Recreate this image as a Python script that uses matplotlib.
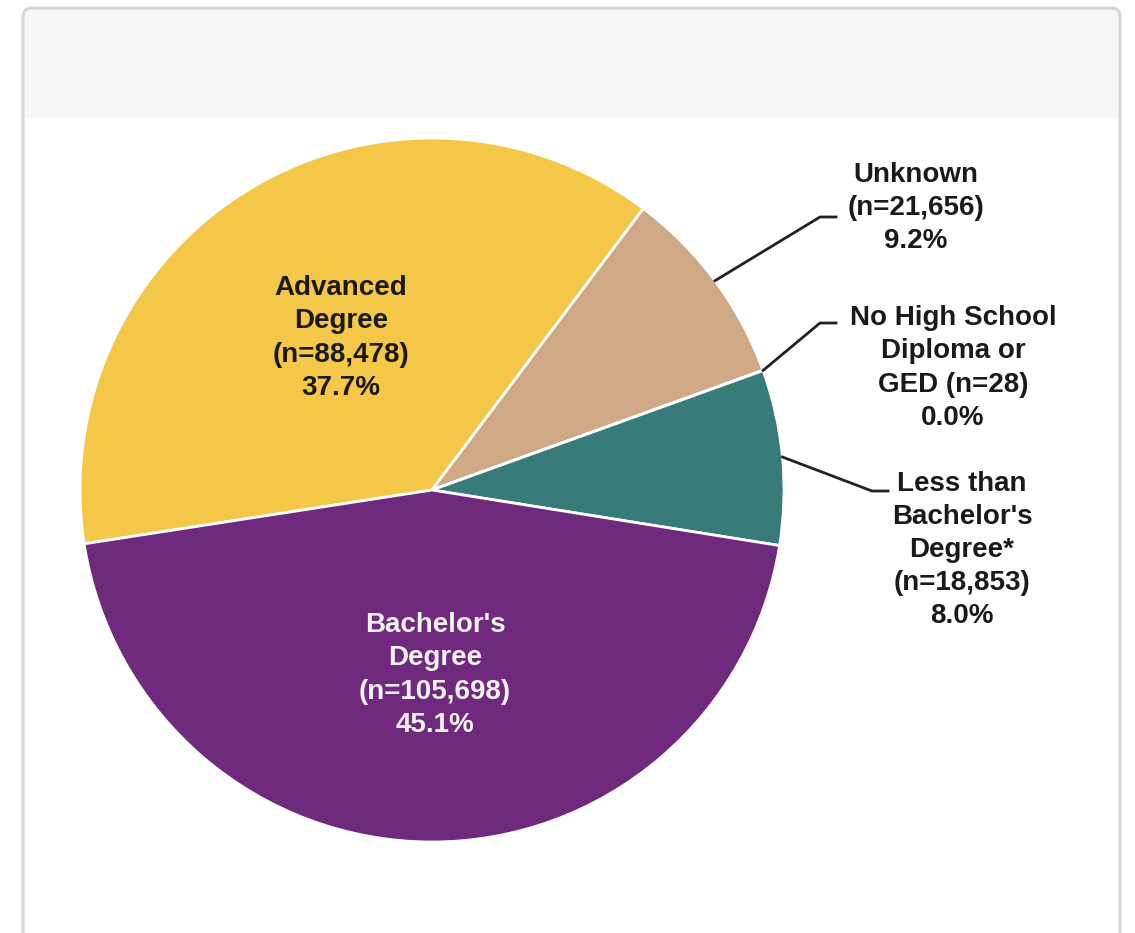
import matplotlib.pyplot as plt
import numpy as np
from matplotlib.patches import FancyBboxPatch, Rectangle

plt.rcParams['font.family'] = ['Liberation Sans', 'DejaVu Sans']

# data
categories = ['Advanced Degree', 'Unknown', 'No High School Diploma or GED', "Less than Bachelor's Degree*", "Bachelor's Degree"]
counts = [88478, 21656, 28, 18853, 105698]
pct_labels = ['37.7%', '9.2%', '0.0%', '8.0%', '45.1%']
label_text = [
    'Advanced\nDegree\n(n=88,478)\n37.7%',
    'Unknown\n(n=21,656)\n9.2%',
    'No High School\nDiploma or\nGED (n=28)\n0.0%',
    "Less than\nBachelor's\nDegree*\n(n=18,853)\n8.0%",
    "Bachelor's\nDegree\n(n=105,698)\n45.1%",
]
colors = ['#F5C748', '#CFA985', '#8C8C8C', '#377C7B', '#6F2A7D']

W, H = 1135, 933
fig = plt.figure(figsize=(W / 100, H / 100), dpi=100)

# card background
bg = fig.add_axes([0, 0, 1, 1], zorder=0)
bg.set_xlim(0, W)
bg.set_ylim(H, 0)
bg.axis('off')
bg.add_patch(FancyBboxPatch((23, 8), 1097, 960, boxstyle='round,pad=0,rounding_size=9',
                            facecolor='#F8F8F8', edgecolor='none'))
bg.add_patch(Rectangle((23, 118), 1097, 850, facecolor='white', edgecolor='none'))
bg.add_patch(FancyBboxPatch((23, 8), 1097, 960, boxstyle='round,pad=0,rounding_size=9',
                            facecolor='none', edgecolor='#D6D6D6', linewidth=2.2))

# pie
cx, cy, r = 432, 490, 352
ax = fig.add_axes([(cx - r) / W, (H - cy - r) / H, 2 * r / W, 2 * r / H], zorder=1)
wedges, _ = ax.pie(counts, colors=colors, startangle=188.8, counterclock=False, radius=1,
                   wedgeprops=dict(edgecolor='white', linewidth=2))
ax.set_xlim(-1, 1)
ax.set_ylim(-1, 1)
ax.axis('off')


def px(x, y):
    return (x - cx) / r, (cy - y) / r


fs = 20
ls = 1.36

# inside labels
ax.text(*px(341, 338), label_text[0], ha='center', va='center', fontsize=fs,
        fontweight='bold', color='#1a1a1a', linespacing=ls)
ax.text(*px(435, 675), label_text[4], ha='center', va='center', fontsize=fs,
        fontweight='bold', color='#F2F2F2', linespacing=ls)

# outside labels with leader lines
outside = [
    (1, 0.5, (820, 217), (836, 217), (916, 208)),
    (2, 0.5, (820, 323), (836, 323), (953, 368)),
    (3, 0.5, (872, 491), (888, 491), (962, 550)),
]
for i, frac, elbow, end, txt in outside:
    w = wedges[i]
    ang = np.deg2rad(w.theta1 + (w.theta2 - w.theta1) * frac)
    x0, y0 = np.cos(ang), np.sin(ang)
    ex, ey = px(*elbow)
    fx, fy = px(*end)
    ax.plot([x0, ex, fx], [y0, ey, fy], color='#222222', linewidth=2, clip_on=False)
    ax.text(*px(*txt), label_text[i], ha='center', va='center', fontsize=fs,
            fontweight='bold', color='#1a1a1a', linespacing=ls, clip_on=False)

fig.savefig('out.png', dpi=100)
